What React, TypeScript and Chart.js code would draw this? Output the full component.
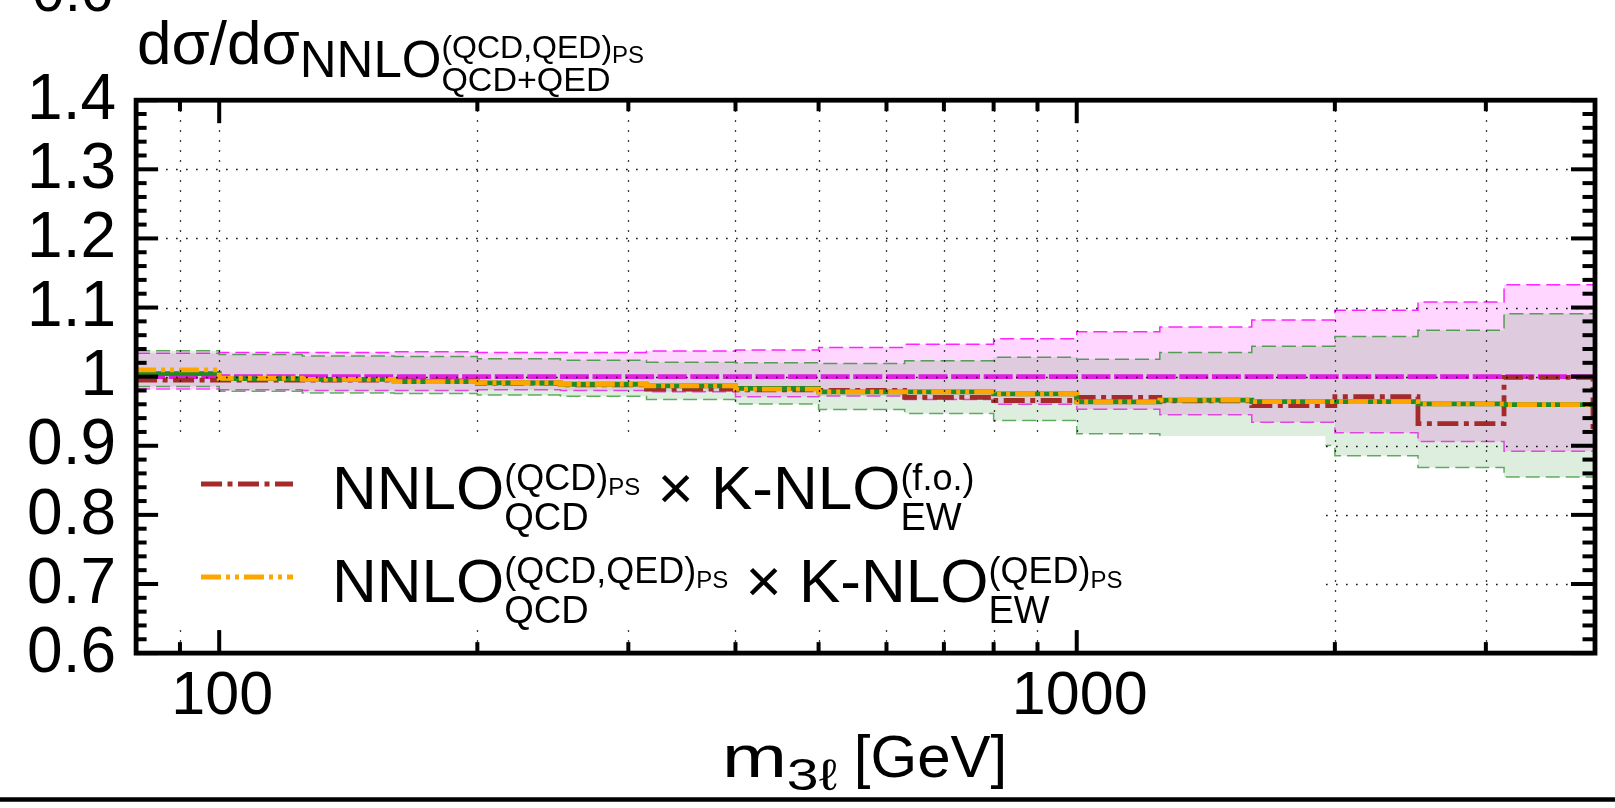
import React, { useEffect, useRef } from 'react';
import { Chart, registerables } from 'chart.js';

Chart.register(...registerables);

// ---------------- data ----------------
const binEdges = [80, 100, 125, 160, 200, 250, 315, 400, 500, 630, 800, 1000, 1250, 1600, 2000, 2500, 3150, 4000];
const overflowEdge = 5000;

// reference NNLO_{QCD+QED}^{(QCD,QED)_PS} (magenta) : central and scale band
const refCentral = [1, 1, 1, 1, 1, 1, 1, 1, 1, 1, 1, 1, 1, 1, 1, 1, 1];
const refUpper = [1.034, 1.035, 1.035, 1.036, 1.035, 1.035, 1.037, 1.0385, 1.042, 1.047, 1.055, 1.065, 1.072, 1.082, 1.096, 1.108, 1.133];
const refLower = [0.982, 0.981, 0.980, 0.980, 0.981, 0.980, 0.978, 0.971, 0.972, 0.967, 0.960, 0.953, 0.945, 0.934, 0.919, 0.906, 0.892];

// NNLO_QCD^{(QCD)_PS} x K-NLO_EW^{(f.o.)} (brown)
const foCentral = [0.995, 0.995, 0.995, 0.994, 0.9905, 0.988, 0.982, 0.981, 0.980, 0.970, 0.9655, 0.970, 0.965, 0.958, 0.971, 0.932, 0.999];
const foOverflow = 0.92;

// NNLO_QCD^{(QCD,QED)_PS} x K-NLO_EW^{(QED)_PS} (orange) with green scale band
const psCentral = [1.0097, 0.9977, 0.9962, 0.9928, 0.9914, 0.989, 0.9866, 0.982, 0.978, 0.978, 0.975, 0.9635, 0.966, 0.964, 0.964, 0.9606, 0.9596];
const psGreenCentral = [1.0044, 0.997, 0.996, 0.993, 0.991, 0.989, 0.9866, 0.983, 0.978, 0.978, 0.975, 0.9635, 0.966, 0.964, 0.964, 0.9606, 0.9596];
const psUpper = [1.0375, 1.032, 1.030, 1.029, 1.026, 1.0236, 1.021, 1.020, 1.019, 1.023, 1.028, 1.025, 1.035, 1.044, 1.058, 1.067, 1.091];
const psLower = [0.9856, 0.979, 0.9765, 0.9755, 0.9736, 0.9717, 0.9668, 0.9606, 0.9524, 0.9466, 0.9365, 0.9173, 0.9115, 0.9004, 0.8856, 0.8687, 0.8548];

// ticks
const xMajorTicks = [100, 1000];
const xMajorLabels = ['100', '1000'];
const xMinorTicks = [90, 200, 300, 400, 500, 600, 700, 800, 900, 2000, 3000];
const yMajorTicks = [0.6, 0.7, 0.8, 0.9, 1.0, 1.1, 1.2, 1.3, 1.4];
const yMajorLabels = ['0.6', '0.7', '0.8', '0.9', '1', '1.1', '1.2', '1.3', '1.4'];
const yMinorTicks = [0.62, 0.64, 0.66, 0.68, 0.72, 0.74, 0.76, 0.78, 0.82, 0.84, 0.86, 0.88, 0.92, 0.94, 0.96, 0.98, 1.02, 1.04, 1.06, 1.08, 1.12, 1.14, 1.16, 1.18, 1.22, 1.24, 1.26, 1.28, 1.32, 1.34, 1.36, 1.38];
const yGridTicks = [0.7, 0.8, 0.9, 1.0, 1.1, 1.2, 1.3];

// ---------------- style ----------------
const FONT = '"Liberation Sans", Arial, Helvetica, sans-serif';
const W = 1615;
const H = 808;
const BROWN = '#a52a2a';
const ORANGE = '#ffa500';
const GREEN = '#228b22';
const MAGENTA_LINE = '#e01ee0';
const BROWN_DASH = [21, 5.5, 5, 5.5];
const ORANGE_DASH = [20, 5, 4, 5, 4, 5];

function steps(vals: number[], edges: number[]) {
  const pts = vals.map((v, i) => ({ x: edges[i], y: v }));
  pts.push({ x: edges[vals.length], y: vals[vals.length - 1] });
  return pts;
}

type Run = { t: string; size: number; dy?: number; sx?: number };
type Group = { sup?: Run[]; sub?: Run[] };
type Item = Run | Group;

function runWidth(ctx: CanvasRenderingContext2D, r: Run): number {
  ctx.font = `${r.size}px ${FONT}`;
  return ctx.measureText(r.t).width * (r.sx || 1);
}

function drawRuns(ctx: CanvasRenderingContext2D, runs: Run[], x: number, y: number): number {
  let cx = x;
  for (const r of runs) {
    ctx.font = `${r.size}px ${FONT}`;
    ctx.save();
    ctx.translate(cx, y + (r.dy || 0));
    ctx.scale(r.sx || 1, 1);
    ctx.fillText(r.t, 0, 0);
    ctx.restore();
    cx += runWidth(ctx, r);
  }
  return cx - x;
}

function measureRuns(ctx: CanvasRenderingContext2D, runs: Run[]): number {
  let w = 0;
  for (const r of runs) w += runWidth(ctx, r);
  return w;
}

function richWidth(ctx: CanvasRenderingContext2D, items: Item[]): number {
  let w = 0;
  for (const it of items) {
    if ((it as Run).t !== undefined) w += measureRuns(ctx, [it as Run]);
    else {
      const g = it as Group;
      w += Math.max(g.sup ? measureRuns(ctx, g.sup) : 0, g.sub ? measureRuns(ctx, g.sub) : 0);
    }
  }
  return w;
}

function drawRich(ctx: CanvasRenderingContext2D, items: Item[], x: number, y: number) {
  let cx = x;
  ctx.textAlign = 'left';
  ctx.textBaseline = 'alphabetic';
  for (const it of items) {
    if ((it as Run).t !== undefined) {
      cx += drawRuns(ctx, [it as Run], cx, y);
    } else {
      const g = it as Group;
      const a = g.sup ? drawRuns(ctx, g.sup, cx, y) : 0;
      const b = g.sub ? drawRuns(ctx, g.sub, cx, y) : 0;
      cx += Math.max(a, b);
    }
  }
}

const legendEntries: { color: string; dash: number[]; items: Item[] }[] = [
  {
    color: BROWN,
    dash: BROWN_DASH,
    items: [
      { t: 'NNLO', size: 62 },
      { sup: [{ t: '(QCD)', size: 36, dy: -19 }, { t: 'PS', size: 24, dy: -14 }], sub: [{ t: 'QCD', size: 38, dy: 21 }] },
      { t: ' \u00d7 K-NLO', size: 62 },
      { sup: [{ t: '(f.o.)', size: 36, dy: -19 }], sub: [{ t: 'EW', size: 38, dy: 21 }] },
    ],
  },
  {
    color: ORANGE,
    dash: ORANGE_DASH,
    items: [
      { t: 'NNLO', size: 62 },
      { sup: [{ t: '(QCD,QED)', size: 36, dy: -19 }, { t: 'PS', size: 24, dy: -14 }], sub: [{ t: 'QCD', size: 38, dy: 21 }] },
      { t: ' \u00d7 K-NLO', size: 62 },
      { sup: [{ t: '(QED)', size: 36, dy: -19 }, { t: 'PS', size: 24, dy: -14 }], sub: [{ t: 'EW', size: 38, dy: 21 }] },
    ],
  },
];

const titleItems: Item[] = [
  { t: 'd\u03c3/d\u03c3', size: 62 },
  { t: 'NNLO', size: 51, dy: 13 },
  { sup: [{ t: '(QCD,QED)', size: 32, dy: -6 }, { t: 'PS', size: 24, dy: -1 }], sub: [{ t: 'QCD+QED', size: 34, dy: 27 }] },
];

const xTitleItems: Item[] = [
  { t: 'm', size: 60, sx: 1.3 },
  { t: '3\u2113', size: 44, dy: 13, sx: 1.3 },
  { t: ' [GeV]', size: 60 },
];

const framePlugin = {
  id: 'framePlugin',
  afterDatasetsDraw(chart: any) {
    const ctx: CanvasRenderingContext2D = chart.ctx;
    const { left, right, top, bottom } = chart.chartArea;
    const xs = chart.scales.x;
    const ys = chart.scales.y;
    ctx.save();

    // dotted grid (in front of the curves)
    ctx.strokeStyle = '#000';
    ctx.lineWidth = 1.3;
    ctx.setLineDash([1.5, 8.5]);
    for (const v of [...xMinorTicks, ...xMajorTicks]) {
      const px = Math.round(xs.getPixelForValue(v)) + 0.5;
      ctx.beginPath();
      ctx.moveTo(px, top);
      ctx.lineTo(px, bottom);
      ctx.stroke();
    }
    for (const v of yGridTicks) {
      const py = Math.round(ys.getPixelForValue(v)) + 0.5;
      ctx.beginPath();
      ctx.moveTo(left, py);
      ctx.lineTo(right, py);
      ctx.stroke();
    }
    ctx.setLineDash([]);

    // legend box
    const lx0 = left + 1;
    const lx1 = xs.getPixelForValue(1950);
    const ly0 = ys.getPixelForValue(0.914);
    const ly1 = ys.getPixelForValue(0.635);
    ctx.fillStyle = '#fff';
    ctx.fillRect(lx0, ly0, lx1 - lx0, ly1 - ly0);
    const lineY = [484, 577];
    const textY = [509, 602];
    legendEntries.forEach((e, i) => {
      ctx.strokeStyle = e.color;
      ctx.lineWidth = 4.8;
      ctx.setLineDash(e.dash);
      ctx.beginPath();
      ctx.moveTo(201, lineY[i]);
      ctx.lineTo(293, lineY[i]);
      ctx.stroke();
      ctx.setLineDash([]);
      ctx.fillStyle = '#000';
      drawRich(ctx, e.items, 332, textY[i]);
    });

    // ticks
    ctx.strokeStyle = '#000';
    ctx.lineWidth = 4;
    const tick = (x0: number, y0: number, x1: number, y1: number) => {
      ctx.beginPath();
      ctx.moveTo(x0, y0);
      ctx.lineTo(x1, y1);
      ctx.stroke();
    };
    for (const v of xMajorTicks) {
      const px = xs.getPixelForValue(v);
      tick(px, bottom, px, bottom - 23);
      tick(px, top, px, top + 23);
    }
    for (const v of xMinorTicks) {
      const px = xs.getPixelForValue(v);
      tick(px, bottom, px, bottom - 11);
      tick(px, top, px, top + 11);
    }
    for (const v of yMajorTicks) {
      const py = ys.getPixelForValue(v);
      tick(left, py, left + 22, py);
      tick(right, py, right - 22, py);
    }
    for (const v of yMinorTicks) {
      const py = ys.getPixelForValue(v);
      tick(left, py, left + 10.5, py);
      tick(right, py, right - 10.5, py);
    }

    // frame
    ctx.lineWidth = 4.8;
    ctx.strokeRect(left, top, right + 2 - left, bottom - top);

    // tick labels
    ctx.fillStyle = '#000';
    ctx.font = `61px ${FONT}`;
    ctx.textAlign = 'center';
    ctx.textBaseline = 'alphabetic';
    xMajorTicks.forEach((v, i) => {
      ctx.fillText(xMajorLabels[i], xs.getPixelForValue(v) + 3, 714);
    });
    ctx.font = `64px ${FONT}`;
    ctx.textAlign = 'right';
    ctx.textBaseline = 'middle';
    yMajorTicks.forEach((v, i) => {
      ctx.fillText(yMajorLabels[i], 116, ys.getPixelForValue(v) + 1);
    });
    // bottom label of the panel above (cut by the page edge)
    ctx.font = `58px ${FONT}`;
    ctx.textBaseline = 'alphabetic';
    ctx.fillText('0.6', 113, 11);

    // x title
    const xw = richWidth(ctx, xTitleItems);
    drawRich(ctx, xTitleItems, (left + right) / 2 - xw / 2, 777);

    // y title
    drawRich(ctx, titleItems, 137, 64);

    // frame line of the panel below
    ctx.lineWidth = 4.5;
    ctx.beginPath();
    ctx.moveTo(0, 799.5);
    ctx.lineTo(W, 799.5);
    ctx.stroke();

    ctx.restore();
  },
};

export default function App() {
  const ref = useRef<HTMLCanvasElement | null>(null);
  useEffect(() => {
    document.body.style.margin = '0';
    const canvas = ref.current!;
    const band = (vals: number[], color: string, order: number, fillTo: number | false, fillColor?: string) => ({
      data: steps(vals, binEdges),
      stepped: true,
      borderColor: color,
      borderWidth: 1.5,
      borderDash: [14, 6],
      pointRadius: 0,
      fill: fillTo === false ? false : { target: fillTo },
      backgroundColor: fillColor || 'transparent',
      order,
    });
    const central = (vals: number[], edges: number[], color: string, dash: number[], order: number) => ({
      data: steps(vals, edges),
      stepped: true,
      borderColor: color,
      borderWidth: 4.8,
      borderDash: dash,
      pointRadius: 0,
      fill: false,
      order,
    });
    const chart = new Chart(canvas, {
      type: 'line',
      data: {
        datasets: [
          band(refUpper, 'rgba(255,0,255,0.85)', 70, 1, 'rgba(255,0,255,0.16)'),
          band(refLower, 'rgba(255,0,255,0.75)', 60, false),
          band(psUpper, 'rgba(34,139,34,0.75)', 50, 3, 'rgba(34,139,34,0.15)'),
          band(psLower, 'rgba(34,139,34,0.7)', 40, false),
          central(refCentral, binEdges, MAGENTA_LINE, [29, 3.6], 30),
          central([...foCentral, foOverflow], [...binEdges, overflowEdge], BROWN, BROWN_DASH, 20),
          central(psGreenCentral, binEdges, GREEN, [], 10),
          central(psCentral, binEdges, ORANGE, ORANGE_DASH, 0),
        ],
      },
      options: {
        responsive: false,
        animation: false,
        devicePixelRatio: 1,
        layout: { padding: { left: 136.1, right: W - 1593, top: 100.2, bottom: H - 653.1 } },
        scales: {
          x: { type: 'logarithmic', min: 80, max: 4000, display: false },
          y: { type: 'linear', min: 0.6, max: 1.4, display: false },
        },
        plugins: {
          legend: { display: false },
          tooltip: { enabled: false },
          filler: { propagate: false },
        },
        elements: { line: { tension: 0, borderCapStyle: 'butt' } },
      } as any,
      plugins: [framePlugin],
    });
    return () => chart.destroy();
  }, []);
  return (
    <div style={{ position: 'absolute', left: 0, top: 0, width: W, height: H, background: '#fff' }}>
      <canvas ref={ref} width={W} height={H} style={{ width: W, height: H, display: 'block' }} />
    </div>
  );
}
